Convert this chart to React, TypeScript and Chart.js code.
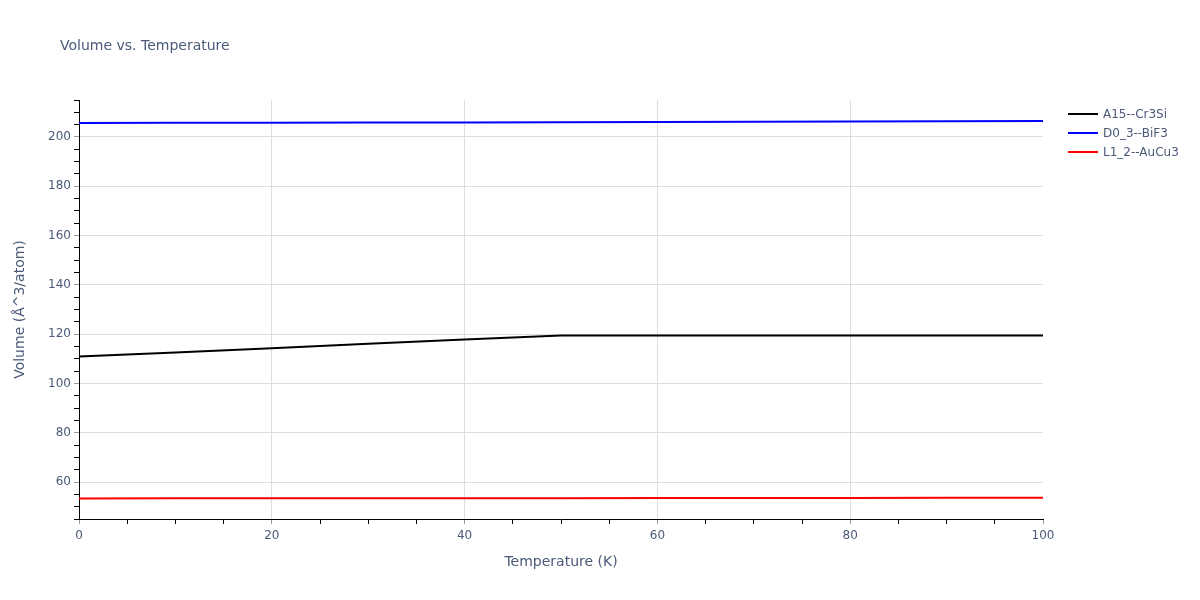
import React, { useEffect, useRef } from 'react';
import { Chart, registerables } from 'chart.js';

Chart.register(...registerables);

// temperatures (K)
const temperatures = [0, 10, 20, 30, 40, 50, 60, 70, 80, 90, 100];

// volumes (Å^3/atom)
const a15Cr3Si = [110.9, 112.6, 114.3, 116.1, 117.8, 119.5, 119.5, 119.5, 119.5, 119.5, 119.5];
const d03BiF3 = [205.7, 205.75, 205.8, 205.85, 205.9, 206.0, 206.05, 206.15, 206.25, 206.35, 206.45];
const l12AuCu3 = [53.35, 53.37, 53.39, 53.41, 53.43, 53.46, 53.49, 53.52, 53.55, 53.58, 53.6];

const seriesNames = ['A15--Cr3Si', 'D0_3--BiF3', 'L1_2--AuCu3'];
const seriesColors = ['#000000', '#0000ff', '#ff0000'];

const FONT = '"DejaVu Sans", verdana, arial, sans-serif';
const TEXT = '#4a5a78';
const GRID = '#dddddd';

const isMajor = (c: any) => (c.tick ? c.tick.value % 20 === 0 : false);

const VolumeChart: React.FC = () => {
  const chartRef = useRef<HTMLCanvasElement>(null);
  const chartInstance = useRef<Chart | null>(null);

  useEffect(() => {
    if (!chartRef.current) return;
    if (chartInstance.current) chartInstance.current.destroy();
    const ctx = chartRef.current.getContext('2d');
    if (!ctx) return;

    const toPoints = (vals: number[]) => vals.map((v, i) => ({ x: temperatures[i], y: v }));
    const allSeries = [a15Cr3Si, d03BiF3, l12AuCu3];

    chartInstance.current = new Chart(ctx, {
      type: 'line',
      data: {
        datasets: allSeries.map((vals, i) => ({
          label: seriesNames[i],
          data: toPoints(vals),
          borderColor: seriesColors[i],
          backgroundColor: seriesColors[i],
          borderWidth: 2,
          pointRadius: 0,
          tension: 0,
        })),
      },
      options: {
        responsive: false,
        animation: false,
        layout: { padding: { left: 0, right: 157, top: 100, bottom: 0 } },
        plugins: {
          legend: { display: false },
          title: { display: false },
          tooltip: { enabled: false },
        },
        scales: {
          x: {
            type: 'linear',
            min: 0,
            max: 100,
            afterFit: (scale: any) => { scale.height = 81; },
            ticks: {
              stepSize: 5,
              autoSkip: false,
              maxRotation: 0,
              padding: 5,
              color: TEXT,
              font: { family: FONT, size: 12 },
              callback: (value: any) => (Number(value) % 20 === 0 ? String(value) : ''),
            },
            grid: {
              color: (c: any) => {
                const v = c.tick ? c.tick.value : 0;
                return v % 20 === 0 && v !== 0 && v !== 100 ? GRID : 'rgba(0,0,0,0)';
              },
              tickColor: (c: any) => (isMajor(c) ? '#999999' : '#000000'),
              tickLength: 5,
            },
            border: { display: true, color: '#000000', width: 1 },
            title: {
              display: true,
              text: 'Temperature (K)',
              color: TEXT,
              font: { family: FONT, size: 14 },
              padding: { top: 0, bottom: 29 },
            },
          },
          y: {
            type: 'linear',
            min: 45,
            max: 215,
            afterFit: (scale: any) => { scale.width = 79; },
            ticks: {
              stepSize: 5,
              autoSkip: false,
              padding: 3,
              color: TEXT,
              font: { family: FONT, size: 12 },
              callback: (value: any) => (Number(value) % 20 === 0 ? String(value) : ''),
            },
            grid: {
              color: (c: any) => (isMajor(c) ? GRID : 'rgba(0,0,0,0)'),
              tickColor: (c: any) => (isMajor(c) ? '#999999' : '#000000'),
              tickLength: 5,
            },
            border: { display: true, color: '#000000', width: 1 },
            title: {
              display: true,
              text: 'Volume (Å^3/atom)',
              color: TEXT,
              font: { family: FONT, size: 14 },
              padding: { top: 12, bottom: 0 },
            },
          },
        },
      },
    });

    return () => {
      if (chartInstance.current) {
        chartInstance.current.destroy();
        chartInstance.current = null;
      }
    };
  }, []);

  return (
    <div style={{ position: 'absolute', left: 0, top: 0, width: 1200, height: 600, background: '#fff', fontFamily: FONT }}>
      <canvas ref={chartRef} width={1200} height={600} style={{ position: 'absolute', left: 0, top: 0 }}></canvas>
      <div style={{ position: 'absolute', left: 60, top: 36, fontSize: 14, lineHeight: '18px', color: TEXT, whiteSpace: 'nowrap' }}>
        Volume vs. Temperature
      </div>
      {seriesNames.map((name, i) => (
        <div key={name} style={{ position: 'absolute', left: 1068, top: 105 + i * 19, height: 18, display: 'flex', alignItems: 'center', whiteSpace: 'nowrap' }}>
          <span style={{ display: 'inline-block', width: 30, height: 2, background: seriesColors[i] }}></span>
          <span style={{ marginLeft: 5, fontSize: 12, color: TEXT }}>{name}</span>
        </div>
      ))}
    </div>
  );
};

export default function App() {
  return <VolumeChart />;
}
